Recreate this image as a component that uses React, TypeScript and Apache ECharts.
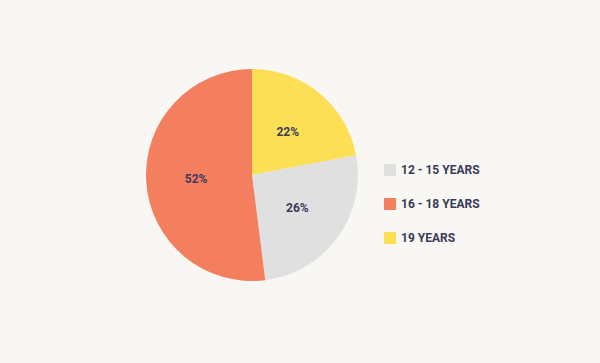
import React, { useEffect, useRef } from "react";
import * as echarts from "echarts";

const categories = ["12 - 15 YEARS", "16 - 18 YEARS", "19 YEARS"];
const values = [26, 52, 22];
const colors = ["#e0e0e0", "#f47f5f", "#fddf55"];
// drawing order clockwise from 12 o'clock
const order = [2, 0, 1];

const FONT = "Roboto, 'Noto Sans', sans-serif";

export default function App() {
  const ref = useRef<HTMLDivElement>(null);
  useEffect(() => {
    document.body.style.margin = "0";
    const chart = echarts.init(ref.current!, undefined, { renderer: "svg" });
    const data = order.map((i) => ({
      name: categories[i],
      value: values[i],
      itemStyle: { color: colors[i] },
    }));
    chart.setOption({
      animation: false,
      backgroundColor: "#f8f7f3",
      legend: {
        orient: "vertical",
        left: 379,
        top: 159,
        icon: "rect",
        itemWidth: 12,
        itemHeight: 12,
        itemGap: 22,
        data: categories,
        selectedMode: false,
        textStyle: {
          fontFamily: FONT,
          fontWeight: "bold",
          fontSize: 12,
          lineHeight: 12,
          color: "#3a3a5a",
        },
        itemStyle: { borderWidth: 0 },
      },
      series: [
        {
          type: "pie",
          center: [252, 175],
          radius: [0, 106],
          startAngle: 90,
          clockwise: true,
          data,
          itemStyle: { borderWidth: 0 },
          label: {
            show: true,
            position: "inside",
            formatter: "{c}%",
            fontFamily: FONT,
            fontWeight: "bold",
            fontSize: 12,
            color: "#3a3a5a",
          },
          labelLine: { show: false },
          emphasis: { disabled: true },
        },
      ],
    });
    return () => chart.dispose();
  }, []);
  return (
    <div
      ref={ref}
      style={{ position: "fixed", left: 0, top: 0, width: 600, height: 363 }}
    />
  );
}
